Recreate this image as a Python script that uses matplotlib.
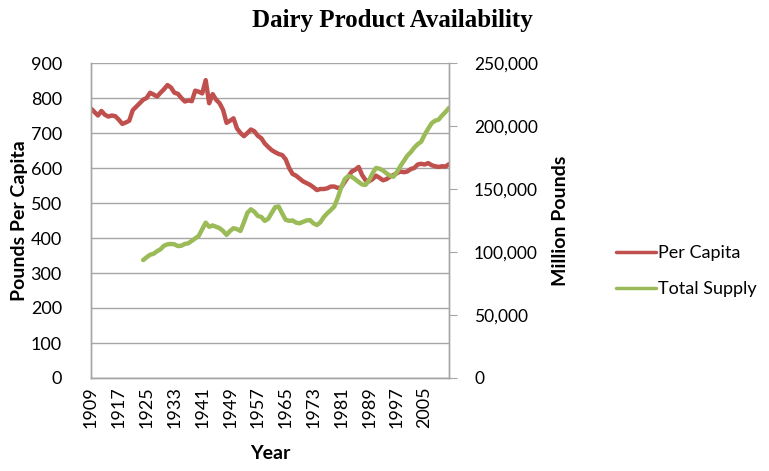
import numpy as np
import matplotlib
matplotlib.use('Agg')
import matplotlib.pyplot as plt
from matplotlib.ticker import FuncFormatter

# Per capita availability, pounds (1909-2012)
years = list(range(1909, 2013))
per_capita = [
    770, 760, 750, 763, 752, 747, 750, 748, 738, 726,
    730, 735, 765, 775, 785, 795, 800, 815, 810, 804,
    815, 825, 837, 830, 815, 812, 800, 790, 793, 791,
    821, 818, 813, 851, 785, 811, 795, 785, 766, 729,
    735, 742, 713, 700, 691, 700, 710, 705, 692, 685,
    670, 660, 651, 645, 640, 637, 625, 600, 583, 578,
    570, 562, 557, 552, 545, 537, 540, 540, 542, 547,
    547, 543, 545, 560, 575, 590, 595, 603, 580, 565,
    562, 568, 578, 572, 565, 568, 575, 580, 585, 590,
    588, 590, 597, 600, 610, 612, 610, 614, 608, 605,
    603, 605, 604, 611,
]

# Total supply, million pounds (1924-2012)
supply_years = list(range(1924, 2013))
total_supply = [
    93600, 95800, 97800, 98600, 100600, 102200, 105000, 106100, 106400, 106100,
    104700, 105000, 106400, 106900, 108900, 110800, 112800, 118100, 123300, 120000,
    121100, 120000, 118900, 116700, 113600, 116700, 118900, 118100, 116700, 123600,
    131100, 133900, 131900, 128600, 127800, 124700, 126400, 131100, 135600, 136100,
    130600, 125600, 124700, 125000, 123300, 122800, 123900, 125000, 125300, 122800,
    121400, 123600, 127800, 130800, 133300, 136100, 143100, 151400, 157800, 160300,
    159700, 157800, 155600, 153600, 153300, 156900, 162500, 166700, 166100, 164700,
    162500, 160600, 159700, 163300, 168100, 172200, 176400, 179200, 182800, 185600,
    187500, 193100, 197800, 202200, 204200, 205000, 208300, 211100, 214400,
]

tick_years = list(range(1909, 2013, 8))

red = '#C0504D'
green = '#9BBB59'
grid_col = '#A6A6A6'
font = ['Lato', 'DejaVu Sans']

fig = plt.figure(figsize=(7.69, 4.71), dpi=100)
ax = fig.add_axes([91/769, 1 - 378/471, 358/769, 315/471])
ax2 = ax.twinx()

l1, = ax.plot(years, per_capita, color=red, lw=3.2, solid_capstyle='round', solid_joinstyle='round')
l2, = ax2.plot(supply_years, total_supply, color=green, lw=3.2, solid_capstyle='round', solid_joinstyle='round')

ax.set_xlim(1909, 2012)
ax.set_ylim(0, 900)
ax.set_yticks(range(0, 901, 100))
ax2.set_ylim(0, 250000)
ax2.set_yticks(range(0, 250001, 50000))
ax2.yaxis.set_major_formatter(FuncFormatter(lambda v, p: f'{int(v):,}'))

ax.grid(axis='y', color=grid_col, lw=1)
ax.set_axisbelow(True)
ax.set_xticks(tick_years)
ax.set_xticklabels([str(y) for y in tick_years], rotation=90, family=font, fontsize=13)
for t in ax.get_yticklabels():
    t.set_family(font)
    t.set_fontsize(13)
for t in ax2.get_yticklabels():
    t.set_family(font)
    t.set_fontsize(12.5)
ax.tick_params(axis='x', length=0, pad=6)
ax.tick_params(axis='y', length=0, pad=21)
ax2.tick_params(axis='y', length=6, color=grid_col, pad=12)

for a in (ax, ax2):
    a.spines['top'].set_visible(False)
    for s in ('left', 'right', 'bottom'):
        a.spines[s].set_color(grid_col)
        a.spines[s].set_linewidth(1)

ax.set_ylabel('Pounds Per Capita', family=font, fontsize=14, weight='bold', labelpad=2)
ax2.set_ylabel('Million Pounds', family=font, fontsize=14, weight='bold', labelpad=10)
ax.set_xlabel('Year', family=font, fontsize=14, weight='bold', labelpad=12)

fig.text(392/769, 1 - 20/471, 'Dairy Product Availability', family='Liberation Serif',
         fontsize=18, weight='bold', ha='center', va='center')

fig.legend([l1, l2], ['Per Capita', 'Total Supply'], loc='center left',
           bbox_to_anchor=(600/769, 1 - 271/471), frameon=False,
           prop={'family': font, 'size': 13}, handlelength=2.2, handletextpad=0.1,
           labelspacing=1.1)
for h in fig.legends[0].get_lines():
    h.set_linewidth(2.5)

fig.savefig('out.png', dpi=100)
